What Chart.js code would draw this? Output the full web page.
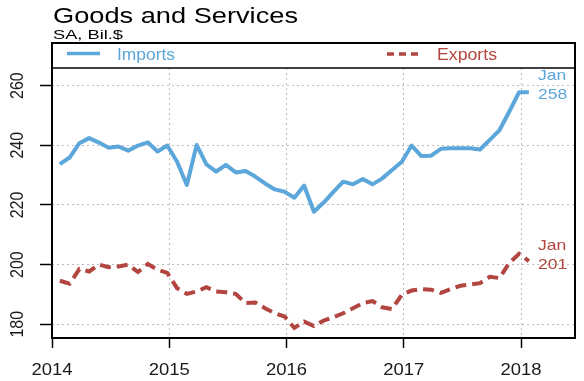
<!DOCTYPE html>
<html><head><meta charset="utf-8">
<script src="https://cdn.jsdelivr.net/npm/chart.js@4.4.1/dist/chart.umd.min.js"></script>
<style>html,body{margin:0;padding:0;background:#fff}#wrap{width:584px;height:381px;position:relative}</style>
</head><body><div id="wrap"><canvas id="c"></canvas></div>
<script>
// ---- data ----
const titleText = 'Goods and Services';
const subtitleText = 'SA, Bil.$';
const seriesNames = ['Imports', 'Exports'];
const months = [
  '2014-01','2014-02','2014-03','2014-04','2014-05','2014-06','2014-07','2014-08','2014-09','2014-10','2014-11','2014-12',
  '2015-01','2015-02','2015-03','2015-04','2015-05','2015-06','2015-07','2015-08','2015-09','2015-10','2015-11','2015-12',
  '2016-01','2016-02','2016-03','2016-04','2016-05','2016-06','2016-07','2016-08','2016-09','2016-10','2016-11','2016-12',
  '2017-01','2017-02','2017-03','2017-04','2017-05','2017-06','2017-07','2017-08','2017-09','2017-10','2017-11','2017-12',
  '2018-01'
];
const imports = [
  233.7,235.9,240.7,242.4,240.9,239.2,239.6,238.2,239.9,241.0,237.9,239.9,
  234.5,226.7,240.1,233.6,231.2,233.4,230.9,231.4,229.5,227.2,225.2,224.4,
  222.4,226.5,217.7,220.8,224.4,227.8,226.9,228.7,226.9,228.9,231.7,234.5,
  239.9,236.4,236.5,238.8,239.0,239.0,239.0,238.6,241.8,245.1,251.3,257.8,
  257.8
];
const exportsVals = [
  194.6,193.6,198.5,197.7,200.0,199.1,199.4,200.0,197.5,200.2,198.3,197.2,
  192.1,190.2,191.0,192.4,191.0,190.7,190.2,187.1,187.3,185.4,183.7,182.6,
  178.8,180.9,179.4,181.2,182.4,183.7,185.4,187.1,187.8,185.7,185.1,189.9,
  191.3,191.8,191.6,190.5,191.8,192.9,193.3,193.8,195.9,195.5,200.6,203.6,
  201.2
];
const xTicks = [2014, 2015, 2016, 2017, 2018];
const yTicks = [180, 200, 220, 240, 260];
const monthAbbr = ['Jan','Feb','Mar','Apr','May','Jun','Jul','Aug','Sep','Oct','Nov','Dec'];

// ---- styling ----
const BLUE = '#5BA6DA';
const RED = '#B2453F';
const FONT = '"Liberation Sans", Arial, Helvetica, sans-serif';
const LEG_TOP = 43;

const toX = m => { const p = m.split('-').map(Number); return p[0] + (p[1] - 0.2) / 12; };
const toPts = vals => months.map((m, i) => ({x: toX(m), y: vals[i]}));

function txt(ctx, s, x, y, size, color, o) {
  o = o || {};
  ctx.save();
  ctx.font = size + 'px ' + FONT;
  ctx.fillStyle = color;
  ctx.textBaseline = 'alphabetic';
  ctx.textAlign = o.align || 'left';
  const w = ctx.measureText(s).width;
  const sx = o.width ? o.width / w : (o.sx || 1);
  ctx.translate(x, y);
  if (o.rotate) ctx.rotate(o.rotate);
  ctx.scale(sx, o.sy || 1);
  ctx.fillText(s, 0, 0);
  ctx.restore();
}

const decor = {
  id: 'decor',
  afterDraw(chart) {
    const ctx = chart.ctx, a = chart.chartArea, xs = chart.scales.x, ys = chart.scales.y;
    ctx.save();
    // frame + legend separator
    ctx.strokeStyle = '#000';
    ctx.lineWidth = 2;
    ctx.strokeRect(a.left, LEG_TOP, a.right - a.left, a.bottom - LEG_TOP);
    ctx.lineWidth = 1.5;
    ctx.beginPath(); ctx.moveTo(a.left, a.top); ctx.lineTo(a.right, a.top); ctx.stroke();
    // legend
    ctx.lineWidth = 3.5;
    ctx.strokeStyle = BLUE;
    ctx.beginPath(); ctx.moveTo(67, 53.5); ctx.lineTo(100, 53.5); ctx.stroke();
    ctx.strokeStyle = RED;
    ctx.setLineDash([7, 5]);
    ctx.beginPath(); ctx.moveTo(387, 54); ctx.lineTo(418, 54); ctx.stroke();
    ctx.setLineDash([]);
    ctx.restore();
    txt(ctx, seriesNames[0], 117, 60, 16, BLUE, {width: 58});
    txt(ctx, seriesNames[1], 437, 59.5, 16, RED, {width: 60});
    // title
    txt(ctx, titleText, 53, 23, 22, '#000', {width: 245});
    txt(ctx, subtitleText, 53, 38.5, 13.5, '#000', {width: 70});
    // tick labels
    xTicks.forEach(v => txt(ctx, String(v), xs.getPixelForValue(v), 375, 17, '#1a1a1a', {sx: 1.085, align: 'center'}));
    yTicks.forEach(v => txt(ctx, String(v), 23, ys.getPixelForValue(v), 16, '#1a1a1a', {rotate: -Math.PI / 2, sy: 1.1, align: 'center'}));
    // end labels
    const lastMonth = monthAbbr[Number(months[months.length - 1].split('-')[1]) - 1];
    chart.data.datasets.forEach((ds, i) => {
      const meta = chart.getDatasetMeta(i);
      const last = ds.data[ds.data.length - 1];
      const px = meta.data[meta.data.length - 1].x + 9;
      const val = Math.round(last.y);
      const py = ys.getPixelForValue(val) + 7.3;
      txt(ctx, lastMonth, px, py - 19, 15, ds.borderColor, {sx: 1.17});
      txt(ctx, String(val), px, py, 15, ds.borderColor, {sx: 1.17});
    });
  }
};

const gridCommon = {color: '#bdbdbd', lineWidth: 1, drawTicks: true, tickColor: '#000', tickWidth: 1.5};

new Chart(document.getElementById('c'), {
  type: 'line',
  data: {
    datasets: [
      {label: seriesNames[0], data: toPts(imports), borderColor: BLUE, borderWidth: 4,
       pointRadius: 0, tension: 0, borderJoinStyle: 'round', fill: false},
      {label: seriesNames[1], data: toPts(exportsVals), borderColor: RED, borderWidth: 4,
       borderDash: [11, 6], pointRadius: 0, tension: 0, fill: false}
    ]
  },
  options: {
    responsive: true, maintainAspectRatio: false, animation: false, devicePixelRatio: 1,
    layout: {padding: {left: 40, right: 9, top: 68, bottom: 0}},
    plugins: {legend: {display: false}, title: {display: false}, tooltip: {enabled: false}},
    scales: {
      x: {
        type: 'linear', min: 2014, max: 2018.46,
        afterBuildTicks: s => { s.ticks = xTicks.map(v => ({value: v})); },
        ticks: {display: false},
        grid: Object.assign({}, gridCommon, {tickLength: 10}),
        border: {display: false, dash: [2, 3]},
        afterFit: s => { s.height = 43; }
      },
      y: {
        type: 'linear', min: 175.4, max: 265.9,
        afterBuildTicks: s => { s.ticks = yTicks.map(v => ({value: v})); },
        ticks: {display: false},
        grid: Object.assign({}, gridCommon, {tickLength: 12}),
        border: {display: false, dash: [2, 3]},
        afterFit: s => { s.width = 12; }
      }
    }
  },
  plugins: [decor]
});
</script>
</body></html>
